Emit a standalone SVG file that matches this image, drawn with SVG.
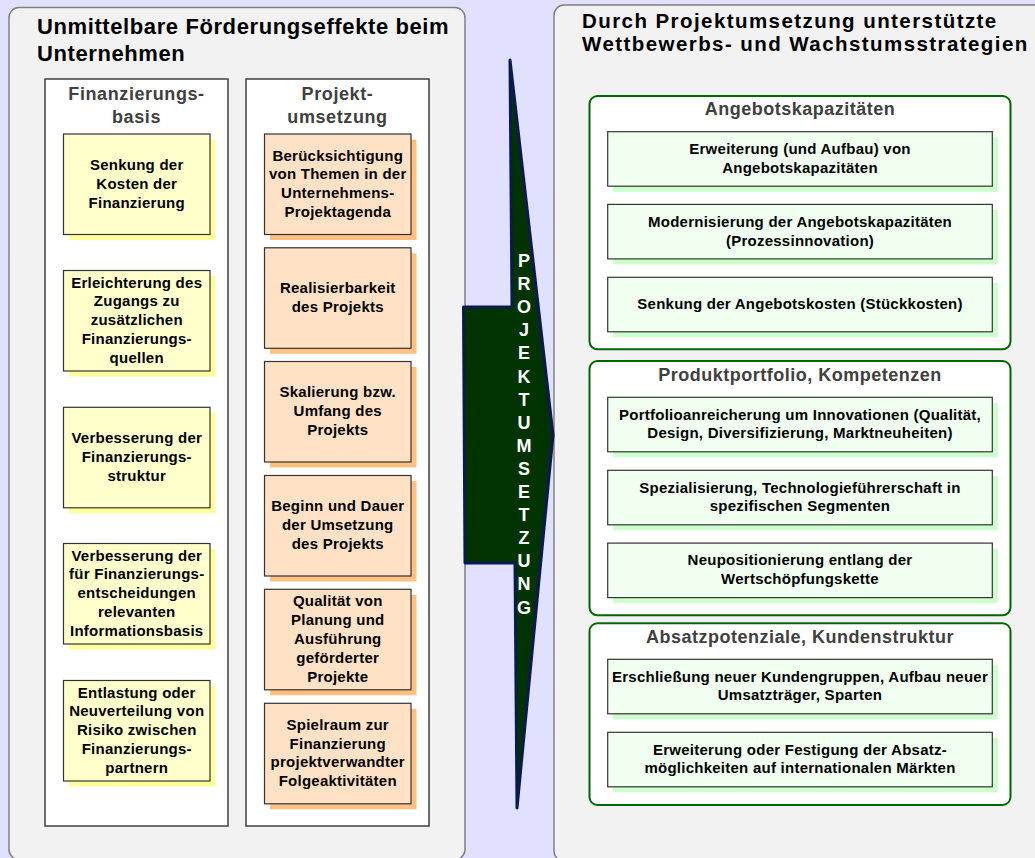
<svg xmlns="http://www.w3.org/2000/svg" width="1035" height="858" viewBox="0 0 1035 858">
<style>
.bg{fill:#E1E1FF}
.panel{fill:#F2F2F2;stroke:#808080;stroke-width:1.5}
.col{fill:#FFFFFF;stroke:#404040;stroke-width:1.5}
.gpanel{fill:#FFFFFF;stroke:#006600;stroke-width:2}
.ybox{fill:#FFFFCC;stroke:#333333;stroke-width:1.2}
.ysh{fill:#FFFF99}
.obox{fill:#FFE2C6;stroke:#333333;stroke-width:1.2}
.osh{fill:#FFC080}
.gbox{fill:#F0FFF0;stroke:#333333;stroke-width:1.2}
.gsh{fill:#CCFFCC}
text{font-family:"Liberation Sans",Arial,sans-serif;font-weight:bold}
.t1{font-size:22px;letter-spacing:0.6px;fill:#000}
.t2{font-size:20.5px;letter-spacing:1.43px;fill:#000}
.h{font-size:18px;letter-spacing:0.6px;fill:#404040;text-anchor:middle}
.gh{font-size:18px;letter-spacing:0.5px;fill:#404040;text-anchor:middle}
.b{font-size:15px;letter-spacing:0.25px;fill:#000;text-anchor:middle}
.a{font-size:18px;fill:#FFFFFF;text-anchor:middle}
</style>
<rect class="bg" x="0" y="0" width="1035" height="858"/>

<g id="panel-left">
<rect class="panel" x="9" y="7.5" width="456" height="852" rx="10"/>
<text class="t1" x="37" y="33.7">Unmittelbare Förderungseffekte beim</text>
<text class="t1" x="37" y="61">Unternehmen</text>
</g>

<g id="col-finanzierungsbasis">
<rect class="col" x="45" y="79" width="183" height="747"/>
<text class="h" x="136.5" y="100">Finanzierungs-</text>
<text class="h" x="136.5" y="123">basis</text>
</g>

<g id="col-projektumsetzung">
<rect class="col" x="246" y="79" width="183" height="747"/>
<text class="h" x="337.5" y="100">Projekt-</text>
<text class="h" x="337.5" y="123">umsetzung</text>
</g>

<g id="y1">
<rect class="ysh" x="69" y="139.5" width="146.5" height="100.5"/>
<rect class="ybox" x="63.5" y="134" width="146.5" height="100.5"/>
<text class="b" x="136.75" y="169.95">Senkung der</text>
<text class="b" x="136.75" y="188.75">Kosten der</text>
<text class="b" x="136.75" y="207.55">Finanzierung</text>
</g>
<g id="y2">
<rect class="ysh" x="69" y="276" width="146.5" height="100.5"/>
<rect class="ybox" x="63.5" y="270.5" width="146.5" height="100.5"/>
<text class="b" x="136.75" y="287.65">Erleichterung des</text>
<text class="b" x="136.75" y="306.45">Zugangs zu</text>
<text class="b" x="136.75" y="325.25">zusätzlichen</text>
<text class="b" x="136.75" y="344.05">Finanzierungs-</text>
<text class="b" x="136.75" y="362.85">quellen</text>
</g>
<g id="y3">
<rect class="ysh" x="69" y="412.8" width="146.5" height="100.5"/>
<rect class="ybox" x="63.5" y="407.3" width="146.5" height="100.5"/>
<text class="b" x="136.75" y="443.25">Verbesserung der</text>
<text class="b" x="136.75" y="462.05">Finanzierungs-</text>
<text class="b" x="136.75" y="480.85">struktur</text>
</g>
<g id="y4">
<rect class="ysh" x="69" y="549" width="146.5" height="100.5"/>
<rect class="ybox" x="63.5" y="543.5" width="146.5" height="100.5"/>
<text class="b" x="136.75" y="560.65">Verbesserung der</text>
<text class="b" x="136.75" y="579.45">für Finanzierungs-</text>
<text class="b" x="136.75" y="598.25">entscheidungen</text>
<text class="b" x="136.75" y="617.05">relevanten</text>
<text class="b" x="136.75" y="635.85">Informationsbasis</text>
</g>
<g id="y5">
<rect class="ysh" x="69" y="686" width="146.5" height="100.5"/>
<rect class="ybox" x="63.5" y="680.5" width="146.5" height="100.5"/>
<text class="b" x="136.75" y="697.65">Entlastung oder</text>
<text class="b" x="136.75" y="716.45">Neuverteilung von</text>
<text class="b" x="136.75" y="735.25">Risiko zwischen</text>
<text class="b" x="136.75" y="754.05">Finanzierungs-</text>
<text class="b" x="136.75" y="772.85">partnern</text>
</g>

<g id="o1">
<rect class="osh" x="270" y="139.5" width="146.5" height="100.5"/>
<rect class="obox" x="264.5" y="134" width="146.5" height="100.5"/>
<text class="b" x="337.75" y="160.55">Berücksichtigung</text>
<text class="b" x="337.75" y="179.35">von Themen in der</text>
<text class="b" x="337.75" y="198.15">Unternehmens-</text>
<text class="b" x="337.75" y="216.95">Projektagenda</text>
</g>
<g id="o2">
<rect class="osh" x="270" y="253.3" width="146.5" height="100.5"/>
<rect class="obox" x="264.5" y="247.8" width="146.5" height="100.5"/>
<text class="b" x="337.75" y="293.15">Realisierbarkeit</text>
<text class="b" x="337.75" y="311.95">des Projekts</text>
</g>
<g id="o3">
<rect class="osh" x="270" y="367" width="146.5" height="100.5"/>
<rect class="obox" x="264.5" y="361.5" width="146.5" height="100.5"/>
<text class="b" x="337.75" y="397.45">Skalierung bzw.</text>
<text class="b" x="337.75" y="416.25">Umfang des</text>
<text class="b" x="337.75" y="435.05">Projekts</text>
</g>
<g id="o4">
<rect class="osh" x="270" y="481" width="146.5" height="100.5"/>
<rect class="obox" x="264.5" y="475.5" width="146.5" height="100.5"/>
<text class="b" x="337.75" y="511.45">Beginn und Dauer</text>
<text class="b" x="337.75" y="530.25">der Umsetzung</text>
<text class="b" x="337.75" y="549.05">des Projekts</text>
</g>
<g id="o5">
<rect class="osh" x="270" y="594.8" width="146.5" height="100.5"/>
<rect class="obox" x="264.5" y="589.3" width="146.5" height="100.5"/>
<text class="b" x="337.75" y="606.45">Qualität von</text>
<text class="b" x="337.75" y="625.25">Planung und</text>
<text class="b" x="337.75" y="644.05">Ausführung</text>
<text class="b" x="337.75" y="662.85">geförderter</text>
<text class="b" x="337.75" y="681.65">Projekte</text>
</g>
<g id="o6">
<rect class="osh" x="270" y="708.8" width="146.5" height="100.5"/>
<rect class="obox" x="264.5" y="703.3" width="146.5" height="100.5"/>
<text class="b" x="337.75" y="729.85">Spielraum zur</text>
<text class="b" x="337.75" y="748.65">Finanzierung</text>
<text class="b" x="337.75" y="767.45">projektverwandter</text>
<text class="b" x="337.75" y="786.25">Folgeaktivitäten</text>
</g>

<g id="panel-right">
<rect class="panel" x="554" y="5" width="500" height="856" rx="10"/>
<text class="t2" x="582" y="28">Durch Projektumsetzung unterstützte</text>
<text class="t2" x="582" y="51">Wettbewerbs- und Wachstumsstrategien</text>
</g>

<g id="arrow-projektumsetzung">
<polygon points="510,60 512,307 463.5,307 465,563 515,563 517,808 553,435" fill="#003300" stroke="#0A1A4F" stroke-width="3" stroke-linejoin="round"/>
<text class="a" x="524" y="267">P</text>
<text class="a" x="524" y="290.1">R</text>
<text class="a" x="524" y="313.2">O</text>
<text class="a" x="524" y="336.3">J</text>
<text class="a" x="524" y="359.4">E</text>
<text class="a" x="524" y="382.5">K</text>
<text class="a" x="524" y="405.6">T</text>
<text class="a" x="524" y="428.7">U</text>
<text class="a" x="524" y="451.8">M</text>
<text class="a" x="524" y="474.9">S</text>
<text class="a" x="524" y="498">E</text>
<text class="a" x="524" y="521.1">T</text>
<text class="a" x="524" y="544.2">Z</text>
<text class="a" x="524" y="567.3">U</text>
<text class="a" x="524" y="590.4">N</text>
<text class="a" x="524" y="613.5">G</text>
</g>

<g id="gp1">
<rect class="gpanel" x="589.5" y="96" width="421" height="253.3" rx="8"/>
<text class="gh" x="800" y="115">Angebotskapazitäten</text>
</g>
<g id="gp2">
<rect class="gpanel" x="589.5" y="361" width="421" height="254.3" rx="8"/>
<text class="gh" x="800" y="380.7">Produktportfolio, Kompetenzen</text>
</g>
<g id="gp3">
<rect class="gpanel" x="589.5" y="623.3" width="421" height="181.7" rx="8"/>
<text class="gh" x="800" y="643.3">Absatzpotenziale, Kundenstruktur</text>
</g>

<g id="g1">
<rect class="gsh" x="613.2" y="137.2" width="384.6" height="54.5"/>
<rect class="gbox" x="607.7" y="131.7" width="384.6" height="54.5"/>
<text class="b" x="800" y="154.05">Erweiterung (und Aufbau) von</text>
<text class="b" x="800" y="172.85">Angebotskapazitäten</text>
</g>
<g id="g2">
<rect class="gsh" x="613.2" y="209.9" width="384.6" height="54.5"/>
<rect class="gbox" x="607.7" y="204.4" width="384.6" height="54.5"/>
<text class="b" x="800" y="226.75">Modernisierung der Angebotskapazitäten</text>
<text class="b" x="800" y="245.55">(Prozessinnovation)</text>
</g>
<g id="g3">
<rect class="gsh" x="613.2" y="282.8" width="384.6" height="54.5"/>
<rect class="gbox" x="607.7" y="277.3" width="384.6" height="54.5"/>
<text class="b" x="800" y="309.05">Senkung der Angebotskosten (Stückkosten)</text>
</g>
<g id="g4">
<rect class="gsh" x="613.2" y="402.8" width="384.6" height="54.5"/>
<rect class="gbox" x="607.7" y="397.3" width="384.6" height="54.5"/>
<text class="b" x="800" y="419.65">Portfolioanreicherung um Innovationen (Qualität,</text>
<text class="b" x="800" y="438.45">Design, Diversifizierung, Marktneuheiten)</text>
</g>
<g id="g5">
<rect class="gsh" x="613.2" y="475.8" width="384.6" height="54.5"/>
<rect class="gbox" x="607.7" y="470.3" width="384.6" height="54.5"/>
<text class="b" x="800" y="492.65">Spezialisierung, Technologieführerschaft in</text>
<text class="b" x="800" y="511.45">spezifischen Segmenten</text>
</g>
<g id="g6">
<rect class="gsh" x="613.2" y="548.6" width="384.6" height="54.5"/>
<rect class="gbox" x="607.7" y="543.1" width="384.6" height="54.5"/>
<text class="b" x="800" y="565.45">Neupositionierung entlang der</text>
<text class="b" x="800" y="584.25">Wertschöpfungskette</text>
</g>
<g id="g7">
<rect class="gsh" x="613.2" y="664.8" width="384.6" height="54.5"/>
<rect class="gbox" x="607.7" y="659.3" width="384.6" height="54.5"/>
<text class="b" x="800" y="681.65">Erschließung neuer Kundengruppen, Aufbau neuer</text>
<text class="b" x="800" y="700.45">Umsatzträger, Sparten</text>
</g>
<g id="g8">
<rect class="gsh" x="613.2" y="737.8" width="384.6" height="54.5"/>
<rect class="gbox" x="607.7" y="732.3" width="384.6" height="54.5"/>
<text class="b" x="800" y="754.65">Erweiterung oder Festigung der Absatz-</text>
<text class="b" x="800" y="773.45">möglichkeiten auf internationalen Märkten</text>
</g>

<g id="connectors"/>
</svg>
